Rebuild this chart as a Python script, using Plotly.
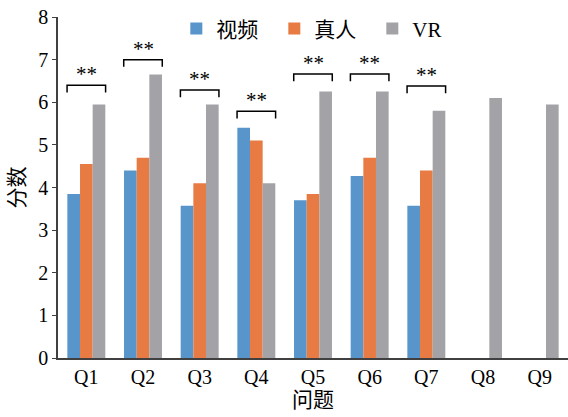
import plotly.graph_objects as go

categories = ["Q1", "Q2", "Q3", "Q4", "Q5", "Q6", "Q7", "Q8", "Q9"]
video = [3.85, 4.40, 3.57, 5.40, 3.70, 4.27, 3.57, None, None]
real = [4.55, 4.70, 4.10, 5.10, 3.85, 4.70, 4.40, None, None]
vr = [5.95, 6.65, 5.95, 4.10, 6.25, 6.25, 5.80, 6.10, 5.95]
sig_index = [0, 1, 2, 3, 4, 5, 6]
sig_height = [6.40, 7.00, 6.29, 5.79, 6.66, 6.66, 6.38]
sig_label = ["**"] * 7
y_ticks = [0, 1, 2, 3, 4, 5, 6, 7, 8]

FONT = "'Liberation Serif', 'Noto Sans CJK SC', serif"
xs = list(range(len(categories)))

fig = go.Figure()
for name, vals, color in [("视频", video, "#5795CA"), ("真人", real, "#E77B43"), ("VR", vr, "#A3A3A7")]:
    fig.add_trace(go.Bar(x=xs, y=vals, name=name, marker=dict(color=color, line=dict(width=0))))

half = 0.34
drop = 0.17
for i, h, lab in zip(sig_index, sig_height, sig_label):
    fig.add_trace(go.Scatter(
        x=[i - half, i - half, i + half, i + half],
        y=[h - drop, h, h, h - drop],
        mode="lines", line=dict(color="black", width=1.5),
        showlegend=False, hoverinfo="skip"))
    fig.add_annotation(x=i, y=h, text=lab, showarrow=False, yanchor="bottom",
                       yshift=-3, font=dict(family=FONT, size=21, color="black"))

fig.update_layout(
    width=568, height=417,
    margin=dict(l=58, r=0, t=17, b=59, autoexpand=False),
    paper_bgcolor="white", plot_bgcolor="white",
    barmode="group", bargap=0.33, bargroupgap=0,
    font=dict(family=FONT, size=20, color="black"),
    legend=dict(orientation="h", x=0.232, y=0.965, xanchor="left", yanchor="middle",
                font=dict(family=FONT, size=21), bgcolor="rgba(0,0,0,0)",
                itemwidth=30, entrywidth=53, tracegroupgap=0),
    xaxis=dict(tickmode="array", tickvals=xs, ticktext=categories,
               range=[-0.5, len(categories) - 0.5], showline=True, linecolor="#404040",
               linewidth=1.5, ticks="", showgrid=False, zeroline=False,
               title=dict(text="问题", font=dict(family=FONT, size=21), standoff=6)),
    yaxis=dict(range=[0, 8], tickvals=y_ticks, showline=True, linecolor="#404040",
               linewidth=1.5, ticks="outside", ticklen=4, tickcolor="#404040",
               showgrid=False, zeroline=False,
               title=dict(text="分数", font=dict(family=FONT, size=21), standoff=8)),
)

fig.write_html("out.html")
